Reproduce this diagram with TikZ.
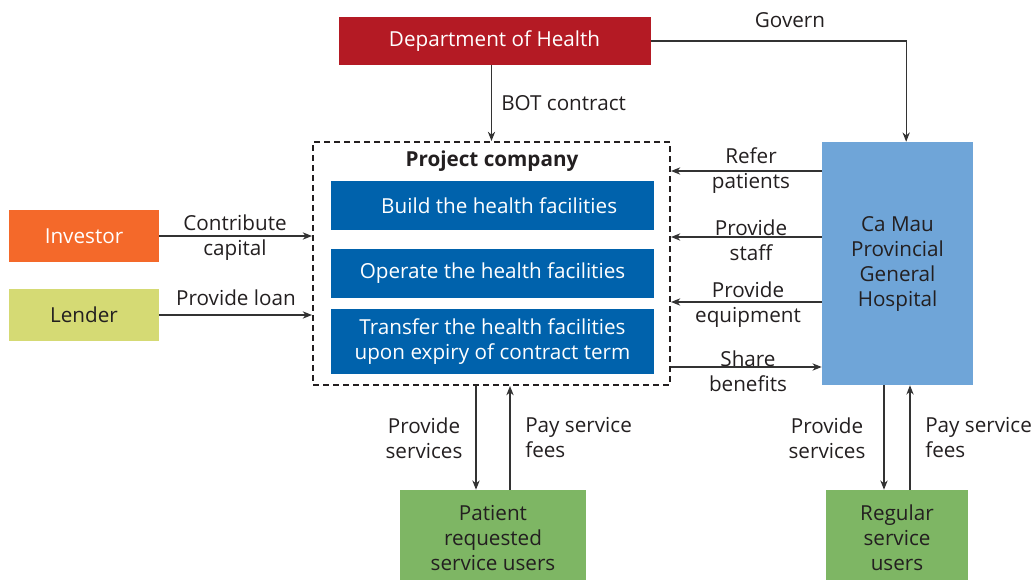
\documentclass[tikz,border=0pt]{standalone}
\usepackage{fontspec}
\setmainfont{Open Sans}
\usetikzlibrary{arrows.meta}
\definecolor{txt}{HTML}{231F20}
\definecolor{ln}{HTML}{333333}
\definecolor{dohred}{HTML}{B41A24}
\definecolor{pblue}{HTML}{0062AC}
\definecolor{hblue}{HTML}{6FA5D8}
\definecolor{invor}{HTML}{F4692A}
\definecolor{lendy}{HTML}{D5DA74}
\definecolor{ugreen}{HTML}{7EB664}
\tikzset{
  box/.style={inner sep=0pt, align=center, font=\fontsize{15.5}{18.75}\selectfont},
  lbl/.style={inner sep=0pt, align=center, text=txt, font=\fontsize{15.5}{18.75}\selectfont},
  arr/.style={draw=ln, line width=0.9pt, -{Stealth[length=7pt,width=5.5pt]}},
}
\begin{document}
\begin{tikzpicture}[x=0.75pt,y=-0.75pt]
\useasboundingbox (0,0) rectangle (1035,582);
% nodes
\node[box, fill=dohred, text=white, minimum width=234pt, minimum height=36pt] (doh) at (494.5,41) {Department of Health};
\node[draw=txt, line width=1.5pt, dash pattern=on 4.5pt off 3pt, minimum width=267.75pt, minimum height=182.25pt, inner sep=0pt] (proj) at (491.5,263.5) {};
\node[lbl, font=\fontsize{15.5}{18.75}\selectfont\bfseries] (pc) at (492,161) {Project company};
\node[box, fill=pblue, text=white, minimum width=242.25pt, minimum height=36.75pt] (build) at (492.5,205.5) {\hspace*{10pt}Build the health facilities};
\node[box, fill=pblue, text=white, minimum width=242.25pt, minimum height=36.75pt] (oper) at (492.5,273.5) {Operate the health facilities};
\node[box, fill=pblue, text=white, minimum width=242.25pt, minimum height=48.75pt] (trans) at (492.5,341.5) {Transfer the health facilities\\upon expiry of contract term};
\node[box, fill=invor, text=white, minimum width=112.5pt, minimum height=39pt] (inv) at (84,236) {Investor};
\node[box, fill=lendy, text=txt, minimum width=112.5pt, minimum height=39pt] (lend) at (84,315) {Lender};
\node[box, fill=hblue, text=txt, minimum width=113.25pt, minimum height=182.25pt] (hosp) at (897.5,263.5) {Ca Mau\\Provincial\\General\\Hospital};
\node[box, fill=ugreen, text=txt, minimum width=139.5pt, minimum height=67.5pt] (pat) at (493,535) {};
\node[lbl] (patt) at (493,538) {Patient\\requested\\service users};
\node[box, fill=ugreen, text=txt, minimum width=106.5pt, minimum height=67.5pt] (reg) at (897,535) {};
\node[lbl] (regt) at (897,538) {Regular\\service\\users};
% connectors
\draw[arr] (doh.east) -| ([xshift=6.5pt]hosp.north);
\node[lbl] (govl) at (790,20) {Govern};
\draw[arr] (doh.south -| proj.north) -- (proj.north);
\node[lbl, anchor=west] (botl) at (501,103) {BOT contract};
\draw[arr] (inv.east) -- (inv.east -| proj.west);
\node[lbl] (invl) at (235,238) {Contribute\\capital};
\draw[arr] (lend.east) -- (lend.east -| proj.west);
\node[lbl] (lendl) at (236,298) {Provide loan};
\coordinate (r1) at (0,171);
\coordinate (r2) at (0,237);
\coordinate (r3) at (0,302);
\coordinate (r4) at (0,367);
\draw[arr] (hosp.west |- r1) -- (proj.east |- r1);
\node[lbl] (l1) at (751,171) {Refer\\patients};
\draw[arr] (hosp.west |- r2) -- (proj.east |- r2);
\node[lbl] (l2) at (751,240) {Provide\\staff};
\draw[arr] (hosp.west |- r3) -- (proj.east |- r3);
\node[lbl] (l3) at (748,305) {Provide\\equipment};
\draw[arr] (proj.east |- r4) -- (hosp.west |- r4);
\node[lbl] (l4) at (748,371) {Share\\benefits};
\coordinate (b1) at (476,0);
\coordinate (b2) at (510,0);
\draw[arr] (proj.south -| b1) -- (pat.north -| b1);
\draw[arr] (pat.north -| b2) -- (proj.south -| b2);
\node[lbl] (bl1) at (424,438) {Provide\\services};
\node[lbl, align=left, anchor=west] (bl2) at (525,438) {Pay service\\fees};
\coordinate (c1) at (884,0);
\coordinate (c2) at (910,0);
\draw[arr] (hosp.south -| c1) -- (reg.north -| c1);
\draw[arr] (reg.north -| c2) -- (hosp.south -| c2);
\node[lbl] (cl1) at (827,438) {Provide\\services};
\node[lbl, align=left, anchor=west] (cl2) at (925,438) {Pay service\\fees};
\end{tikzpicture}
\end{document}
